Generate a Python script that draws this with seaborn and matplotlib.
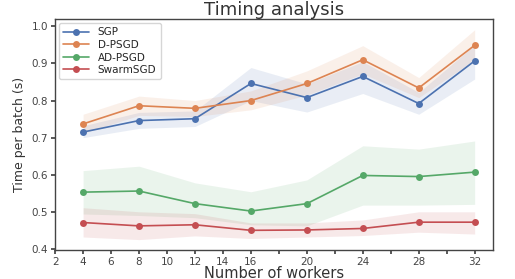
import numpy as np
import pandas as pd
import matplotlib
matplotlib.use("Agg")
import matplotlib.pyplot as plt
import seaborn as sns

# values
workers = [4, 8, 12, 16, 20, 24, 28, 32]
methods = ["SGP", "D-PSGD", "AD-PSGD", "SwarmSGD"]

sgp_mean = [0.715, 0.746, 0.751, 0.846, 0.808, 0.865, 0.792, 0.907]
sgp_low = [0.700, 0.725, 0.730, 0.800, 0.769, 0.819, 0.763, 0.858]
sgp_high = [0.732, 0.768, 0.772, 0.889, 0.845, 0.905, 0.822, 0.950]

dpsgd_mean = [0.737, 0.786, 0.779, 0.800, 0.846, 0.910, 0.834, 0.949]
dpsgd_low = [0.712, 0.760, 0.757, 0.775, 0.815, 0.872, 0.808, 0.910]
dpsgd_high = [0.763, 0.812, 0.800, 0.826, 0.880, 0.948, 0.862, 0.991]

adpsgd_mean = [0.553, 0.556, 0.522, 0.502, 0.522, 0.598, 0.595, 0.607]
adpsgd_low = [0.494, 0.490, 0.484, 0.465, 0.462, 0.518, 0.518, 0.520]
adpsgd_high = [0.611, 0.623, 0.578, 0.554, 0.586, 0.678, 0.669, 0.691]

swarm_mean = [0.471, 0.462, 0.465, 0.450, 0.451, 0.455, 0.472, 0.472]
swarm_low = [0.432, 0.425, 0.435, 0.428, 0.432, 0.436, 0.445, 0.440]
swarm_high = [0.511, 0.500, 0.495, 0.470, 0.470, 0.478, 0.500, 0.500]

means = [sgp_mean, dpsgd_mean, adpsgd_mean, swarm_mean]
lows = [sgp_low, dpsgd_low, adpsgd_low, swarm_low]
highs = [sgp_high, dpsgd_high, adpsgd_high, swarm_high]

df = pd.DataFrame({
    "workers": workers * len(methods),
    "time": np.concatenate(means),
    "method": np.repeat(methods, len(workers)),
})

sns.set_theme(style="ticks", palette="deep")
colors = sns.color_palette("deep", 4)

fig = plt.figure(figsize=(5.15, 2.79), dpi=100)
ax = fig.add_axes([0.107, 0.104, 0.85, 0.828])

for lo, hi, c in zip(lows, highs, colors):
    ax.fill_between(workers, lo, hi, color=c, alpha=0.12, linewidth=0)

sns.lineplot(data=df, x="workers", y="time", hue="method", marker="o",
             markersize=5, markeredgewidth=0, linewidth=1.2,
             palette=colors, ax=ax)

ax.set_xlim(2, 33.3)
ax.set_ylim(0.397, 1.02)
ax.set_xticks(range(2, 33, 2))
ax.set_xticklabels([str(v) if v not in (18, 22, 26, 30) else "" for v in range(2, 33, 2)])
ax.set_yticks([0.4, 0.5, 0.6, 0.7, 0.8, 0.9, 1.0])
ax.tick_params(labelsize=7.5, colors="#444444", length=3, pad=2)
for s in ax.spines.values():
    s.set_color("#444444")
    s.set_linewidth(1.0)

ax.set_title("Timing analysis", fontsize=13, color="#333333", pad=3)
ax.set_xlabel("Number of workers", fontsize=10.5, color="#333333", labelpad=-1)
ax.set_ylabel("Time per batch (s)", fontsize=9, color="#333333")

leg = ax.legend(loc="upper left", fontsize=7.5, frameon=True, handlelength=2.5,
                labelspacing=0.25, borderaxespad=0.4)
leg.set_title(None)

plt.savefig("out.png", dpi=100)
